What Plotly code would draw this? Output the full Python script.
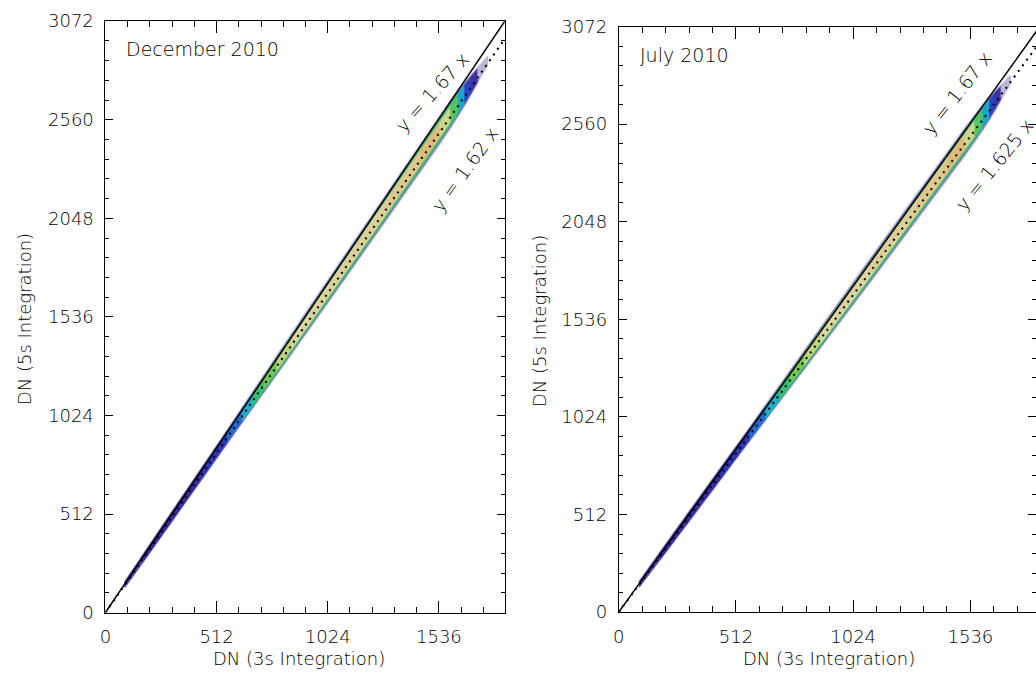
import plotly.graph_objects as go
from plotly.colors import sample_colorscale

# ---------------- data ----------------
Y_TICKS = [0, 512, 1024, 1536, 2048, 2560, 3072]
X_TICKS = [0, 512, 1024, 1536]
MINOR_STEP = 102.4
Y_MAX = 3072
X_MAX_LEFT = 1839.5
X_MAX_RIGHT = 1822.6

panel_titles = ["December 2010", "July 2010"]
ref_slope = 1.67
ref_label = "y = 1.67 x"
fit_slopes = [1.62, 1.625]
fit_labels = ["y = 1.62 x", "y = 1.625 x"]
band_ratio = [1.628, 1.632]

# band breakpoints (DN, 3s), density level per segment, half-width (DN, 5s) at breakpoints
dec_x = [90, 180, 300, 450, 560, 630, 680, 730, 790, 860, 950, 1100, 1300, 1450, 1540, 1590, 1625, 1655, 1685, 1715, 1760]
dec_level = [0.24, 0.28, 0.30, 0.34, 0.42, 0.52, 0.60, 0.68, 0.77, 0.83, 0.85, 0.86, 0.88, 0.92, 0.80, 0.64, 0.50, 0.37, 0.27, 0.12]
dec_hw = [20, 26, 32, 38, 42, 46, 49, 52, 56, 60, 64, 70, 76, 80, 82, 80, 75, 68, 58, 45, 28]

jul_x = [90, 180, 300, 450, 570, 640, 700, 750, 810, 880, 970, 1100, 1300, 1440, 1510, 1555, 1590, 1620, 1645, 1670, 1710]
jul_level = [0.24, 0.28, 0.30, 0.34, 0.42, 0.52, 0.60, 0.68, 0.77, 0.83, 0.85, 0.86, 0.88, 0.92, 0.80, 0.64, 0.50, 0.37, 0.27, 0.12]
jul_hw = [20, 26, 32, 38, 42, 46, 49, 52, 56, 60, 64, 70, 76, 80, 82, 80, 75, 68, 58, 45, 28]

# ---------------- styling ----------------
FONT = "DejaVu Sans"
WEIGHT = 200
SCALE = [
    [0.00, "#f6f6f9"],
    [0.10, "#cfcde0"],
    [0.20, "#6e5cb4"],
    [0.28, "#3c2c9c"],
    [0.36, "#2a3cc2"],
    [0.45, "#1e84d8"],
    [0.52, "#1ab2c6"],
    [0.60, "#34c272"],
    [0.68, "#74c852"],
    [0.76, "#bcd274"],
    [0.84, "#ddd5a2"],
    [0.92, "#e0ba7a"],
    [1.00, "#de9a54"],
]
LAYERS = [(1.0, 0.05), (0.85, 0.18), (0.7, 0.6), (0.5, 1.0)]

fig = go.Figure()


def add_band(xs, levels, hws, ratio, xa, ya):
    for frac, ceiling in LAYERS:
        for i in range(len(levels)):
            lv = min(levels[i], ceiling)
            color = sample_colorscale(SCALE, [lv])[0]
            x0, x1 = xs[i], xs[i + 1]
            h0, h1 = hws[i] * frac, hws[i + 1] * frac
            px = [x0, x1, x1, x0, x0]
            py = [ratio * x0 - h0, ratio * x1 - h1, ratio * x1 + h1, ratio * x0 + h0, ratio * x0 - h0]
            fig.add_trace(go.Scatter(
                x=px, y=py, mode="lines", fill="toself", fillcolor=color,
                line=dict(width=0.6, color=color), hoverinfo="skip",
                showlegend=False, xaxis=xa, yaxis=ya))


bands = [(dec_x, dec_level, dec_hw), (jul_x, jul_level, jul_hw)]
axes_ids = [("x", "y"), ("x2", "y2")]

for k in range(2):
    xs, lv, hw = bands[k]
    xa, ya = axes_ids[k]
    add_band(xs, lv, hw, band_ratio[k], xa, ya)
    xe = Y_MAX / ref_slope
    fig.add_trace(go.Scatter(x=[0, xe], y=[0, ref_slope * xe], mode="lines",
                             line=dict(color="black", width=1.5), hoverinfo="skip",
                             showlegend=False, xaxis=xa, yaxis=ya))
    xf = Y_MAX / fit_slopes[k]
    fig.add_trace(go.Scatter(x=[0, xf], y=[0, fit_slopes[k] * xf], mode="lines",
                             line=dict(color="black", width=2, dash="2px,5px"), hoverinfo="skip",
                             showlegend=False, xaxis=xa, yaxis=ya))

# empty trace so the right-hand tick axis of the clipped panel is drawn
fig.add_trace(go.Scatter(x=[], y=[], xaxis="x2", yaxis="y3", showlegend=False))

tickfont = dict(family=FONT, size=18, color="black", weight=WEIGHT)


def xaxis_cfg(domain, xmax, anchor):
    return dict(domain=domain, range=[0, xmax], anchor=anchor,
                tickmode="linear", tick0=0, dtick=512, ticks="inside", ticklen=12,
                tickcolor="black", tickwidth=1,
                minor=dict(tickmode="linear", tick0=0, dtick=MINOR_STEP, ticks="inside",
                           ticklen=6, tickcolor="black", tickwidth=1),
                showline=True, linecolor="black", linewidth=1, mirror="ticks",
                showgrid=False, zeroline=False, tickfont=tickfont, ticklabelstandoff=8)


def yaxis_cfg(domain, anchor):
    return dict(domain=domain, range=[0, Y_MAX], anchor=anchor,
                tickmode="linear", tick0=0, dtick=512, ticks="inside", ticklen=8,
                tickcolor="black", tickwidth=1,
                minor=dict(tickmode="linear", tick0=0, dtick=MINOR_STEP, ticks="inside",
                           ticklen=4, tickcolor="black", tickwidth=1),
                showline=True, linecolor="black", linewidth=1,
                showgrid=False, zeroline=False, tickfont=tickfont, ticklabelstandoff=7)


W, H = 1036, 682
ya1 = yaxis_cfg([(H - 620.7) / H, (H - 10.5) / H], "x")
ya1["mirror"] = "ticks"
ya2 = yaxis_cfg([(H - 620.2) / H, (H - 16) / H], "x2")
ya3 = yaxis_cfg([(H - 620.2) / H, (H - 16) / H], "free")
ya3.update(overlaying="y2", side="right", position=1.0, showline=False,
           showticklabels=False)

fig.update_layout(
    width=W, height=H,
    margin=dict(l=0, r=0, t=0, b=0),
    paper_bgcolor="white", plot_bgcolor="white",
    showlegend=False,
    xaxis=xaxis_cfg([100 / W, 501.7 / W], X_MAX_LEFT, "y"),
    yaxis=ya1,
    xaxis2=xaxis_cfg([616.3 / W, 1.0], X_MAX_RIGHT, "y2"),
    yaxis2=ya2,
    yaxis3=ya3,
    font=dict(family=FONT, color="black"),
)

txt = dict(family=FONT, color="black", weight=WEIGHT)
ann = []
# axis titles
for cx in [295, 828]:
    ann.append(dict(text="DN (3s Integration)", x=cx / W, y=1 - 668 / H, xref="paper", yref="paper",
                    showarrow=False, font=dict(size=18, **txt),
                    xanchor="center", yanchor="middle"))
for cx, cy in [(18, 318), (536, 320)]:
    ann.append(dict(text="DN (5s Integration)", x=cx / W, y=1 - cy / H, xref="paper", yref="paper",
                    showarrow=False, textangle=-90, font=dict(size=18, **txt),
                    xanchor="center", yanchor="middle"))
# panel titles
for (px, py), t in zip([(119, 39.5), (636, 45)], panel_titles):
    ann.append(dict(text=t, x=px / W, y=1 - py / H, xref="paper", yref="paper", showarrow=False,
                    font=dict(size=19, **txt), xanchor="left", yanchor="middle"))
# line labels
label_specs = [
    ("x", "y", ref_label, 1506, 2702, -48),
    ("x", "y", fit_labels[0], 1656, 2305, -54),
    ("x2", "y2", ref_label, 1478, 2721, -52),
    ("x2", "y2", fit_labels[1], 1640, 2345, -51),
]
for xr, yr, t, x, y, ang in label_specs:
    ann.append(dict(text=t, x=x, y=y, xref=xr, yref=yr, showarrow=False, textangle=ang,
                    font=dict(size=19, **txt),
                    xanchor="center", yanchor="middle"))
fig.update_layout(annotations=ann)

fig.write_html("out.html")
